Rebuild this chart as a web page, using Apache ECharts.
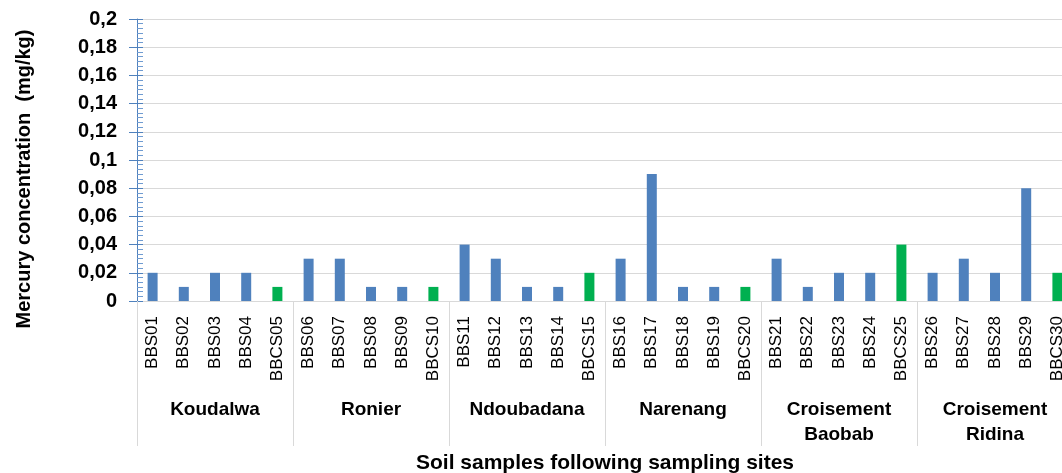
<!DOCTYPE html>
<html>
<head>
<meta charset="utf-8">
<script src="https://cdn.jsdelivr.net/npm/echarts@6/dist/echarts.min.js"></script>
<style>
html,body{margin:0;padding:0;background:#fff;}
#c{width:1062px;height:473px;}
</style>
</head>
<body>
<div id="c"></div>
<script>
const samples = ['BBS01','BBS02','BBS03','BBS04','BBCS05','BBS06','BBS07','BBS08','BBS09','BBCS10',
  'BBS11','BBS12','BBS13','BBS14','BBCS15','BBS16','BBS17','BBS18','BBS19','BBCS20',
  'BBS21','BBS22','BBS23','BBS24','BBCS25','BBS26','BBS27','BBS28','BBS29','BBCS30'];
const mercury = [0.02,0.01,0.02,0.02,0.01, 0.03,0.03,0.01,0.01,0.01,
  0.04,0.03,0.01,0.01,0.02, 0.03,0.09,0.01,0.01,0.01,
  0.03,0.01,0.02,0.02,0.04, 0.02,0.03,0.02,0.08,0.02];
const sites = ['Koudalwa','Ronier','Ndoubadana','Narenang','Croisement\nBaobab','Croisement\nRidina'];
const yTitle = 'Mercury concentration  (mg/kg)';
const xTitle = 'Soil samples following sampling sites';

const BLUE = '#4f81bd', GREEN = '#00b050';
const FONT = '"Liberation Sans", Arial, sans-serif';

const chart = echarts.init(document.getElementById('c'), null, {renderer:'canvas'});
chart.setOption({
  animation:false,
  backgroundColor:'#fff',
  grid:{left:137, width:936, top:19, bottom:172, containLabel:false, outerBoundsMode:'none'},
  xAxis:[{
    type:'category', data:samples, position:'bottom',
    axisLine:{show:true, lineStyle:{color:'#d9d9d9', width:1}},
    axisTick:{show:false},
    axisLabel:{rotate:90, margin:15, interval:0, color:'#000', fontFamily:FONT, fontSize:17},
    splitLine:{show:false}
  },{
    type:'category', data:sites, position:'bottom',
    axisLine:{show:false},
    axisTick:{show:true, interval:0, length:145, lineStyle:{color:'#d9d9d9', width:1}},
    axisLabel:{interval:0, margin:96, color:'#000', fontFamily:FONT, fontSize:19, fontWeight:'bold', lineHeight:25},
    splitLine:{show:false}
  }],
  yAxis:[{
    type:'value', min:0, max:0.2, interval:0.02,
    axisLine:{show:true, lineStyle:{color:'#4f81bd', width:1}},
    axisTick:{show:true, inside:false, length:8, lineStyle:{color:'#4f81bd'}},
    axisLabel:{margin:20, color:'#000', fontFamily:FONT, fontSize:20, fontWeight:'bold',
      formatter:v => String(+v.toFixed(2)).replace('.', ',')},
    splitLine:{show:true, lineStyle:{color:'#d9d9d9', width:1}}
  },{
    type:'value', min:0, max:0.2, interval:0.02, position:'left',
    axisLine:{show:false},
    axisTick:{show:true, inside:true, length:6, lineStyle:{color:'#4f81bd'}},
    minorTick:{show:true, splitNumber:6, length:6, lineStyle:{color:'#6f9bd1', width:1}},
    axisLabel:{show:false},
    splitLine:{show:false}
  }],
  graphic:[{
    type:'text', x:24, y:179, rotation:Math.PI/2,
    style:{text:yTitle, fill:'#000', font:'bold 20px ' + FONT, align:'center', verticalAlign:'middle'}
  },{
    type:'text', x:605, y:463,
    style:{text:xTitle, fill:'#000', font:'bold 21px ' + FONT, align:'center', verticalAlign:'middle'}
  }],
  series:[{
    type:'bar', xAxisIndex:0, yAxisIndex:0, barWidth:10,
    data:mercury.map((v,i)=>({value:v, itemStyle:{color: samples[i].startsWith('BBCS') ? GREEN : BLUE}}))
  }]
});
</script>
</body>
</html>
